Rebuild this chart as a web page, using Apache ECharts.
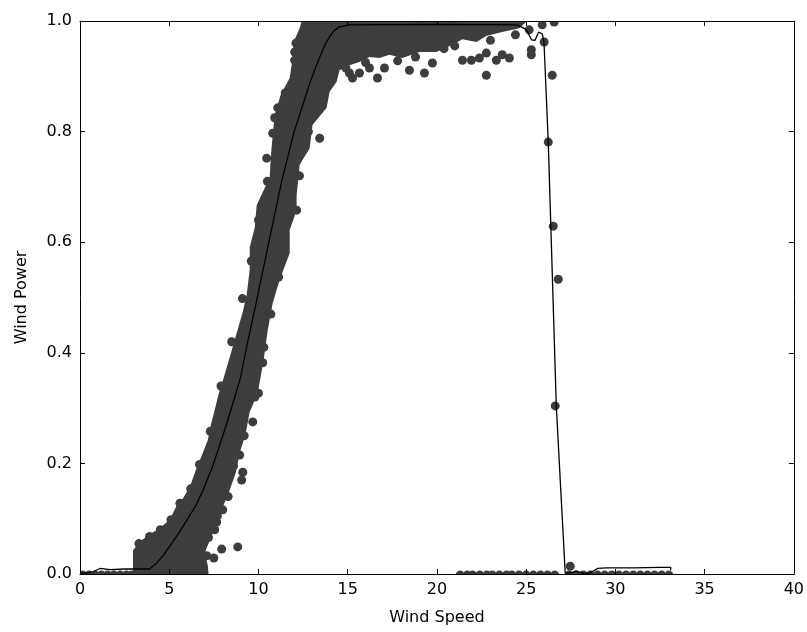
<!DOCTYPE html>
<html><head><meta charset="utf-8">
<script src="https://cdn.jsdelivr.net/npm/echarts@6/dist/echarts.min.js"></script>
<style>html,body{margin:0;padding:0;background:#fff}#c{width:807px;height:632px}</style>
</head><body><div id="c"></div>
<script>
// ---- axis ticks ----
const xTickStep = 5, xMin = 0, xMax = 40;
const yTickStep = 0.2, yMin = 0, yMax = 1.0;

// ---- fitted power curve (black line) ----
const fitX = [0, 0.4, 0.73, 1.12, 1.68, 2.5, 3.3, 3.9, 4.3, 4.7, 5.0, 5.5, 6.0, 6.5, 6.9, 7.4, 7.8, 8.2, 8.6, 9.0, 9.3, 9.9, 10.6, 11.3, 12.0, 12.5, 12.9, 13.5, 13.8, 14.2, 14.5, 15.1, 20.0, 24.5, 25.0, 25.3, 25.5, 25.7, 25.9, 26.0, 26.24, 26.69, 26.91, 27.19, 27.5, 27.8, 28.2, 28.6, 29.0, 29.5, 31.0, 32.5, 33.1, 33.1];
const fitY = [0.001, 0.002, 0.004, 0.010, 0.008, 0.009, 0.009, 0.009, 0.020, 0.035, 0.049, 0.072, 0.098, 0.124, 0.152, 0.192, 0.230, 0.270, 0.312, 0.356, 0.405, 0.495, 0.603, 0.710, 0.800, 0.850, 0.890, 0.940, 0.962, 0.981, 0.989, 0.993, 0.994, 0.993, 0.985, 0.966, 0.965, 0.980, 0.977, 0.962, 0.781, 0.304, 0.170, 0.002, 0.002, 0.005, 0.001, 0.002, 0.010, 0.011, 0.011, 0.012, 0.012, 0.007];

// ---- outline of the dense cloud of measurements ----
const bandOutline = [
  [2.97,-0.02],[2.97,0.043],[3.41,0.060],[3.92,0.072],[4.48,0.083],[5.03,0.098],[5.43,0.125],[5.71,0.134],
  [6.15,0.157],[6.49,0.188],[6.88,0.219],[7.16,0.242],[7.33,0.269],[7.55,0.297],[7.78,0.327],[8.06,0.356],
  [8.39,0.392],[8.78,0.436],[9.12,0.474],[9.34,0.505],[9.51,0.550],[9.51,0.591],[9.79,0.626],[9.90,0.667],
  [10.35,0.698],[10.63,0.716],[10.68,0.749],[10.80,0.794],[10.91,0.830],[11.24,0.866],[11.75,0.897],
  [11.92,0.933],[11.97,0.962],[12.31,0.987],[12.59,1.02],[25.17,1.02],[25.06,1.0],
  [24.62,0.987],[23.66,0.980],[22.77,0.973],[22.21,0.962],[21.43,0.967],[20.87,0.957],[19.97,0.944],
  [19.02,0.944],[18.07,0.933],[17.34,0.939],[16.78,0.933],[16.22,0.935],[15.66,0.926],[15.10,0.920],
  [14.54,0.911],[14.38,0.890],[13.99,0.872],[13.82,0.843],[13.03,0.812],[12.87,0.770],[12.31,0.740],
  [12.14,0.685],[12.14,0.658],[11.75,0.622],[11.75,0.580],[11.19,0.532],[10.80,0.490],[10.52,0.441],
  [10.29,0.387],[9.96,0.327],[9.51,0.293],[9.29,0.255],[8.95,0.219],[8.73,0.183],[8.39,0.152],
  [8.00,0.121],[7.66,0.092],[7.27,0.061],[6.99,0.038],[7.16,0.016],[7.27,-0.02]
];

// ---- individual scattered measurements ----
const outlierX = [8.84, 7.94, 7.50, 7.10, 7.55, 7.66, 8.00, 6.60, 9.68, 9.12, 9.06, 8.95, 10.0, 10.24, 11.13, 12.14,
  10.46, 10.80, 10.91, 11.08, 13.43, 12.03, 12.03, 15.10, 15.27, 15.66, 16.22, 16.67, 17.06, 18.46, 19.30, 19.75,
  21.43, 21.93, 22.38, 22.77, 22.77, 23.33, 23.66, 24.06, 25.29, 25.29, 26.01, 25.17, 25.90, 26.57,
  26.46, 26.24, 26.52, 26.80, 26.63, 27.47,
  3.3, 3.9, 4.5, 5.1, 5.6, 6.2, 6.7, 7.3, 7.9, 8.5, 9.1, 9.6, 10.0, 10.5, 11.0, 11.5, 12.1,
  7.2, 7.7, 8.3, 8.6, 9.2, 9.8, 10.3, 10.7, 11.2, 11.6, 12.3, 12.8, 13.4, 14.2, 14.9,
  13.9, 16.0, 17.8, 18.8, 20.4, 21.0, 23.0, 24.4];
const outlierY = [0.049, 0.045, 0.029, 0.033, 0.080, 0.094, 0.116, 0.022, 0.275, 0.184, 0.170, 0.215, 0.327, 0.382, 0.537, 0.658,
  0.752, 0.797, 0.825, 0.843, 0.788, 0.944, 0.929, 0.906, 0.897, 0.906, 0.915, 0.897, 0.915, 0.911, 0.906, 0.924,
  0.929, 0.929, 0.933, 0.942, 0.902, 0.929, 0.939, 0.933, 0.948, 0.939, 0.962, 0.984, 0.993, 0.998,
  0.902, 0.781, 0.629, 0.533, 0.304, 0.014,
  0.055, 0.068, 0.080, 0.098, 0.128, 0.154, 0.198, 0.258, 0.340, 0.420, 0.498, 0.566, 0.640, 0.710, 0.770, 0.870, 0.960,
  0.066, 0.105, 0.140, 0.195, 0.250, 0.320, 0.410, 0.470, 0.560, 0.640, 0.720, 0.800, 0.855, 0.905, 0.915,
  0.900, 0.925, 0.928, 0.935, 0.950, 0.955, 0.965, 0.975];

// measurements lying on zero power
const zeroRowX = [0.15, 0.5, 0.85, 1.2, 1.55, 1.9, 2.25, 2.6, 2.9,
  21.3, 21.7, 22.0, 22.4, 22.8, 23.1, 23.5, 23.9, 24.2, 24.6, 25.0, 25.4, 25.8, 26.2, 26.6, 27.4, 27.8, 28.2,
  28.6, 29.0, 29.4, 29.8, 30.2, 30.6, 31.0, 31.4, 31.8, 32.2, 32.6, 33.0];
const zeroRowY = -0.002;

const FONT = 'DejaVu Sans';
const DOT = '#3d3d3d';

const fitData = fitX.map((x, i) => [x, fitY[i]]);
const pointData = outlierX.map((x, i) => [x, outlierY[i]]).concat(zeroRowX.map(x => [x, zeroRowY]));

function axisCommon(extra) {
  return Object.assign({
    type: 'value',
    axisLine: { show: true, onZero: false, lineStyle: { color: '#000', width: 1 } },
    axisTick: { show: true, inside: true, length: 5, lineStyle: { color: '#000', width: 1 } },
    splitLine: { show: false },
    z: 5
  }, extra);
}

const chart = echarts.init(document.getElementById('c'), null, { renderer: 'canvas' });
chart.setOption({
  animation: false,
  backgroundColor: '#fff',
  grid: { left: 80, top: 21, right: 12, bottom: 58, containLabel: false },
  xAxis: [
    axisCommon({ position: 'bottom', min: xMin, max: xMax, interval: xTickStep,
      name: 'Wind Speed', nameLocation: 'middle', nameGap: 36,
      nameTextStyle: { fontSize: 16, color: '#000', fontFamily: FONT },
      axisLabel: { fontSize: 16, color: '#000', fontFamily: FONT, margin: 8 } }),
    axisCommon({ position: 'top', min: xMin, max: xMax, interval: xTickStep, axisLabel: { show: false } })
  ],
  yAxis: [
    axisCommon({ position: 'left', min: yMin, max: yMax, interval: yTickStep,
      name: 'Wind Power', nameLocation: 'middle', nameGap: 50,
      nameTextStyle: { fontSize: 16, color: '#000', fontFamily: FONT },
      axisLabel: { fontSize: 16, color: '#000', fontFamily: FONT, margin: 8, formatter: v => v.toFixed(1) } }),
    axisCommon({ position: 'right', min: yMin, max: yMax, interval: yTickStep, axisLabel: { show: false } })
  ],
  series: [
    {
      type: 'custom',
      name: 'cloud',
      clip: true,
      data: [0],
      z: 1,
      renderItem: function (params, api) {
        const pts = bandOutline.map(p => api.coord(p));
        return { type: 'polygon', shape: { points: pts }, style: { fill: DOT } };
      },
      silent: true
    },
    {
      type: 'custom',
      name: 'points',
      clip: true,
      data: pointData,
      z: 2,
      renderItem: function (params, api) {
        const c = api.coord([api.value(0), api.value(1)]);
        return { type: 'circle', shape: { cx: c[0], cy: c[1], r: 4.5 }, style: { fill: DOT } };
      },
      silent: true
    },
    {
      type: 'line',
      name: 'fit',
      data: fitData,
      showSymbol: false,
      symbol: 'none',
      smooth: false,
      lineStyle: { color: '#000', width: 1.3 },
      z: 3,
      silent: true
    }
  ]
});
</script>
</body></html>
